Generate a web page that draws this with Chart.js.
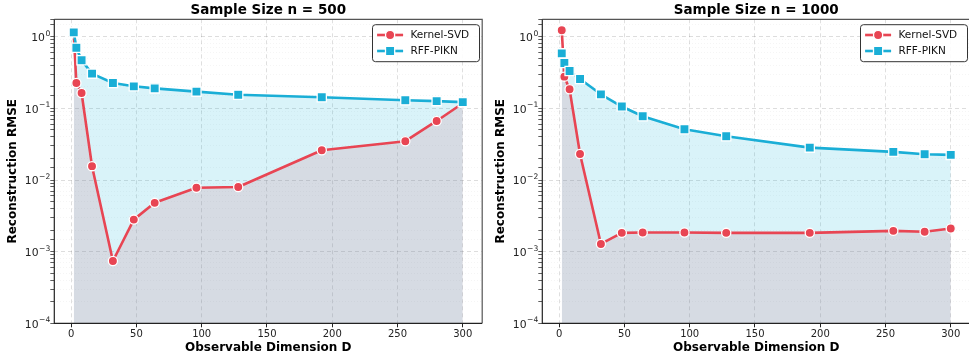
<!DOCTYPE html>
<html>
<head>
<meta charset="utf-8">
<script src="https://cdn.jsdelivr.net/npm/chart.js@4.4.1/dist/chart.umd.min.js"></script>
<style>
  html, body { margin: 0; padding: 0; background: #fff; overflow: hidden; width: 969px; height: 358px; }
  #wrap { position: relative; width: 969px; height: 358px; overflow: hidden; }
  canvas { position: absolute; top: 0; }
</style>
</head>
<body>
<div id="wrap">
  <canvas id="c1" width="490" height="358" style="left:0px"></canvas>
  <canvas id="c2" width="490" height="358" style="left:488px"></canvas>
</div>
<script>
// ---- data ----
const dims = [2, 4, 8, 16, 32, 48, 64, 96, 128, 192, 256, 280, 300];
const kernel500 = [1.12, 0.226, 0.164, 0.0156, 0.00074, 0.0028, 0.0048, 0.0078, 0.0080, 0.026, 0.0348, 0.0667, 0.118];
const rff500 = [1.15, 0.70, 0.47, 0.305, 0.226, 0.203, 0.19, 0.171, 0.155, 0.143, 0.13, 0.126, 0.122];
const kernel1000 = [1.23, 0.277, 0.185, 0.0231, 0.00128, 0.00183, 0.00185, 0.00185, 0.00183, 0.00183, 0.00195, 0.0019, 0.0021];
const rff1000 = [0.586, 0.43, 0.332, 0.257, 0.157, 0.106, 0.0776, 0.051, 0.0408, 0.0283, 0.0247, 0.0229, 0.0224];
const seriesNames = ['Kernel-SVD', 'RFF-PIKN'];
const titles = ['Sample Size n = 500', 'Sample Size n = 1000'];
const xTicks = [0, 50, 100, 150, 200, 250, 300];
const yTickValues = [1e-4, 1e-3, 1e-2, 1e-1, 1];
const yTickBases = ['10', '10', '10', '10', '10'];
const yTickExponents = ['\u22124', '\u22123', '\u22122', '\u22121', '0'];
const xLabel = 'Observable Dimension D';
const yLabel = 'Reconstruction RMSE';

// ---- style ----
const RED = '#e84553';
const CYAN = '#1aaed6';
const FONT = "'DejaVu Sans', sans-serif";

function isDecade(v) {
  const l = Math.log10(v);
  return Math.abs(l - Math.round(l)) < 1e-6;
}

const framePlugin = {
  id: 'frame',
  afterDatasetsDraw(chart) {
    const a = chart.chartArea, ctx = chart.ctx;
    ctx.save();
    ctx.lineWidth = 1.2;
    ctx.strokeStyle = '#555';
    ctx.beginPath();
    ctx.moveTo(a.left, a.top); ctx.lineTo(a.right, a.top); ctx.lineTo(a.right, a.bottom);
    ctx.stroke();
    ctx.strokeStyle = '#222';
    ctx.beginPath();
    ctx.moveTo(a.left, a.top); ctx.lineTo(a.left, a.bottom); ctx.lineTo(a.right, a.bottom);
    ctx.stroke();
    ctx.restore();
  }
};

// y tick labels with real superscripts (10 with a raised exponent)
const yLabelPlugin = {
  id: 'yPowLabels',
  afterDraw(chart) {
    const ys = chart.scales.y, ctx = chart.ctx;
    const right = chart.chartArea.left - 4;
    ctx.save();
    ctx.fillStyle = '#222';
    ctx.textBaseline = 'alphabetic';
    ctx.textAlign = 'left';
    yTickValues.forEach((v, i) => {
      const py = ys.getPixelForValue(v);
      ctx.font = "7.6px " + FONT;
      const ew = ctx.measureText(yTickExponents[i]).width;
      ctx.font = "10.8px " + FONT;
      const bw = ctx.measureText(yTickBases[i]).width;
      const x0 = right - ew - bw - 0.5;
      ctx.fillText(yTickBases[i], x0, py + 4.2);
      ctx.font = "7.6px " + FONT;
      ctx.fillText(yTickExponents[i], x0 + bw + 0.5, py - 1);
    });
    ctx.restore();
  }
};

const legendPlugin = {
  id: 'mplLegend',
  afterDraw(chart) {
    const a = chart.chartArea, ctx = chart.ctx;
    const w = 107, h = 37;
    const x0 = a.right - 2.7 - w, y0 = a.top + 5.4;
    ctx.save();
    ctx.beginPath();
    ctx.roundRect(x0, y0, w, h, 3);
    ctx.fillStyle = 'rgba(255,255,255,0.9)';
    ctx.fill();
    ctx.lineWidth = 1;
    ctx.strokeStyle = '#333';
    ctx.stroke();
    chart.data.datasets.forEach((ds, i) => {
      const cy = y0 + 10.3 + i * 16;
      ctx.strokeStyle = ds.borderColor;
      ctx.lineWidth = ds.borderWidth;
      ctx.beginPath();
      ctx.moveTo(x0 + 4.6, cy); ctx.lineTo(x0 + 30.6, cy);
      ctx.stroke();
      ctx.fillStyle = ds.pointBackgroundColor;
      ctx.strokeStyle = ds.pointBorderColor;
      ctx.lineWidth = ds.pointBorderWidth;
      ctx.beginPath();
      if (ds.pointStyle === 'circle') {
        ctx.arc(x0 + 17.6, cy, ds.pointRadius, 0, Math.PI * 2);
      } else {
        const s = ds.pointRadius * Math.SQRT2 / 2;
        ctx.rect(x0 + 17.6 - s, cy - s, 2 * s, 2 * s);
      }
      ctx.fill(); ctx.stroke();
      ctx.fillStyle = '#111';
      ctx.font = "10.5px " + FONT;
      ctx.textBaseline = 'middle';
      ctx.textAlign = 'left';
      ctx.fillText(ds.label, x0 + 38, cy + 0.5);
    });
    ctx.restore();
  }
};

function makeChart(id, title, kernel, rff) {
  const kPts = dims.map((d, i) => ({x: d, y: kernel[i]}));
  const rPts = dims.map((d, i) => ({x: d, y: rff[i]}));
  return new Chart(document.getElementById(id), {
    type: 'line',
    data: {
      datasets: [
        {
          label: seriesNames[0], data: kPts, order: 1,
          borderColor: RED, backgroundColor: 'rgba(232,69,83,0.15)', fill: 'start',
          borderWidth: 2.6, borderJoinStyle: 'round',
          pointStyle: 'circle', pointRadius: 4.6, pointBackgroundColor: RED,
          pointBorderColor: '#ffffff', pointBorderWidth: 1.3, tension: 0
        },
        {
          label: seriesNames[1], data: rPts, order: 0,
          borderColor: CYAN, backgroundColor: 'rgba(0,172,212,0.15)', fill: 'start',
          borderWidth: 2.6, borderJoinStyle: 'round',
          pointStyle: 'rect', pointRadius: 6.5, pointBackgroundColor: CYAN,
          pointBorderColor: '#ffffff', pointBorderWidth: 1.3, tension: 0
        }
      ]
    },
    options: {
      responsive: false,
      animation: false,
      events: [],
      layout: { padding: { left: 0, right: 2.3, top: 0, bottom: 0 } },
      plugins: {
        legend: { display: false },
        tooltip: { enabled: false },
        filler: { drawTime: 'beforeDatasetsDraw' },
        title: {
          display: true, text: title, fullSize: false, color: '#000',
          font: { family: FONT, size: 13.5, weight: 'bold', lineHeight: 1.2 },
          padding: { top: 2.6, bottom: 0.5 }
        }
      },
      scales: {
        x: {
          type: 'linear', min: -12.9, max: 314.9,
          afterFit: s => { s.height = 34.7; },
          afterBuildTicks: s => { s.ticks = xTicks.map(v => ({value: v})); },
          ticks: { color: '#222', font: { family: FONT, size: 10 }, padding: 1.5, maxRotation: 0, autoSkip: false },
          grid: { color: 'rgba(0,0,0,0.16)', lineWidth: 0.8, tickLength: 4, tickColor: '#222', tickWidth: 1 },
          border: { display: false, dash: ctx => ctx.type === 'tick' ? [4, 3] : [] },
          title: {
            display: true, text: xLabel, color: '#000',
            font: { family: FONT, size: 12, weight: 'bold', lineHeight: 1.2 },
            padding: { top: 0, bottom: 3.1 }
          }
        },
        y: {
          type: 'logarithmic', min: 1e-4, max: 1.75,
          afterFit: s => { s.width = 54.3; },
          ticks: {
            display: false, autoSkip: false
          },
          grid: {
            color: ctx => (ctx.tick && isDecade(ctx.tick.value)) ? 'rgba(0,0,0,0.17)' : 'rgba(0,0,0,0.07)',
            lineWidth: ctx => (ctx.tick && isDecade(ctx.tick.value)) ? 0.8 : 0.6,
            tickLength: 4, tickColor: '#333', tickWidth: 0.8
          },
          border: {
            display: false,
            dash: ctx => ctx.type === 'tick' ? (isDecade(ctx.tick.value) ? [4, 3] : [1, 2]) : []
          },
          title: {
            display: true, text: yLabel, color: '#000',
            font: { family: FONT, size: 12, weight: 'bold', lineHeight: 1.2 },
            padding: { top: 6, bottom: 0 }
          }
        }
      }
    },
    plugins: [framePlugin, yLabelPlugin, legendPlugin]
  });
}

makeChart('c1', titles[0], kernel500, rff500);
makeChart('c2', titles[1], kernel1000, rff1000);
</script>
</body>
</html>
